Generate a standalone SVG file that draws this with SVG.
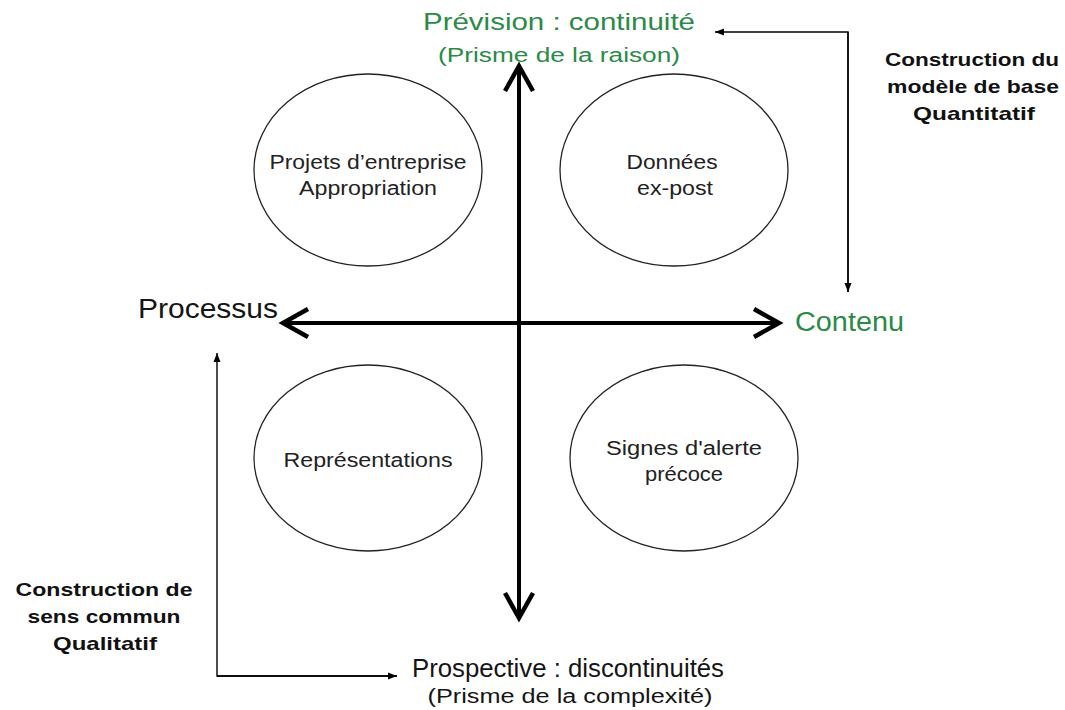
<svg xmlns="http://www.w3.org/2000/svg" width="1065" height="710" viewBox="0 0 1065 710">
  <style>
    text { font-family: "Liberation Sans", Arial, sans-serif; }
    .green { fill: #2a8a46; }
    .dark { fill: #151515; }
    .bold { font-weight: bold; fill: #111; font-size: 19px; }
    .inner { fill: #222; font-size: 20px; }
    .bubble { fill: #fff; stroke: #222; stroke-width: 1.3; }
    .axis { fill: none; stroke: #000; stroke-width: 4; }
    .link { fill: none; stroke: #000; stroke-width: 1.4; }
  </style>
  <defs>
    <marker id="chevron" markerUnits="userSpaceOnUse" markerWidth="40" markerHeight="40" refX="0" refY="0" orient="auto-start-reverse" overflow="visible">
      <path d="M-25,-14 L0,0 L-25,14" fill="none" stroke="#000" stroke-width="4.5" stroke-linejoin="miter"/>
    </marker>
    <marker id="tip" markerUnits="userSpaceOnUse" markerWidth="12" markerHeight="12" refX="0" refY="0" orient="auto" overflow="visible">
      <path d="M-9,-3.5 L0,0 L-9,3.5 z" fill="#000"/>
    </marker>
  </defs>

  <rect width="1065" height="710" fill="#fff"/>

  <!-- quadrant bubbles -->
  <g id="node-projets">
    <ellipse class="bubble" cx="368" cy="170" rx="114" ry="96"/>
    <text class="inner" x="368" y="169" text-anchor="middle" textLength="197" lengthAdjust="spacingAndGlyphs">Projets d’entreprise</text>
    <text class="inner" x="368" y="195" text-anchor="middle" textLength="138" lengthAdjust="spacingAndGlyphs">Appropriation</text>
  </g>
  <g id="node-donnees">
    <ellipse class="bubble" cx="674" cy="170" rx="114" ry="96"/>
    <text class="inner" x="672" y="169" text-anchor="middle" textLength="91" lengthAdjust="spacingAndGlyphs">Données</text>
    <text class="inner" x="675" y="195" text-anchor="middle" textLength="76" lengthAdjust="spacingAndGlyphs">ex-post</text>
  </g>
  <g id="node-representations">
    <ellipse class="bubble" cx="368" cy="458" rx="114" ry="93"/>
    <text class="inner" x="368" y="467" text-anchor="middle" textLength="169" lengthAdjust="spacingAndGlyphs">Représentations</text>
  </g>
  <g id="node-signes">
    <ellipse class="bubble" cx="684" cy="458" rx="114" ry="93"/>
    <text class="inner" x="684" y="455" text-anchor="middle" textLength="156" lengthAdjust="spacingAndGlyphs">Signes d'alerte</text>
    <text class="inner" x="684" y="481" text-anchor="middle" textLength="78" lengthAdjust="spacingAndGlyphs">précoce</text>
  </g>

  <!-- axis end labels -->
  <g id="node-prevision">
    <text class="green" x="559" y="30" text-anchor="middle" font-size="24" textLength="272" lengthAdjust="spacingAndGlyphs">Prévision : continuité</text>
    <text class="green" x="559" y="62" text-anchor="middle" font-size="20" textLength="242" lengthAdjust="spacingAndGlyphs">(Prisme de la raison)</text>
  </g>
  <g id="node-prospective">
    <text class="dark" x="568" y="677" text-anchor="middle" font-size="25" textLength="312" lengthAdjust="spacingAndGlyphs">Prospective : discontinuités</text>
    <text class="dark" x="570" y="703" text-anchor="middle" font-size="20" textLength="285" lengthAdjust="spacingAndGlyphs">(Prisme de la complexité)</text>
  </g>
  <g id="node-processus">
    <text class="dark" x="138" y="318" font-size="28" textLength="140" lengthAdjust="spacingAndGlyphs">Processus</text>
  </g>
  <g id="node-contenu">
    <text class="green" x="795" y="331" font-size="27" textLength="109" lengthAdjust="spacingAndGlyphs">Contenu</text>
  </g>

  <!-- side notes -->
  <g id="node-quantitatif">
    <text class="bold" x="972" y="66" text-anchor="middle" textLength="174" lengthAdjust="spacingAndGlyphs">Construction du</text>
    <text class="bold" x="973" y="93" text-anchor="middle" textLength="172" lengthAdjust="spacingAndGlyphs">modèle de base</text>
    <text class="bold" x="974" y="120" text-anchor="middle" textLength="122" lengthAdjust="spacingAndGlyphs">Quantitatif</text>
  </g>
  <g id="node-qualitatif">
    <text class="bold" x="104" y="596" text-anchor="middle" textLength="177" lengthAdjust="spacingAndGlyphs">Construction de</text>
    <text class="bold" x="104" y="623" text-anchor="middle" textLength="153" lengthAdjust="spacingAndGlyphs">sens commun</text>
    <text class="bold" x="105" y="650" text-anchor="middle" textLength="104" lengthAdjust="spacingAndGlyphs">Qualitatif</text>
  </g>

  <!-- connectors -->
  <g id="connectors">
    <line class="axis" x1="519" y1="66" x2="519" y2="618" marker-start="url(#chevron)" marker-end="url(#chevron)"/>
    <line class="axis" x1="283" y1="323" x2="779" y2="323" marker-start="url(#chevron)" marker-end="url(#chevron)"/>
    <polyline class="link" points="848,292 848,32 715,32" marker-end="url(#tip)"/>
    <polyline class="link" points="848,32 848,292" marker-end="url(#tip)"/>
    <polyline class="link" points="397,676 217,676 217,353" marker-end="url(#tip)"/>
    <polyline class="link" points="217,676 397,676" marker-end="url(#tip)"/>
  </g>
</svg>
